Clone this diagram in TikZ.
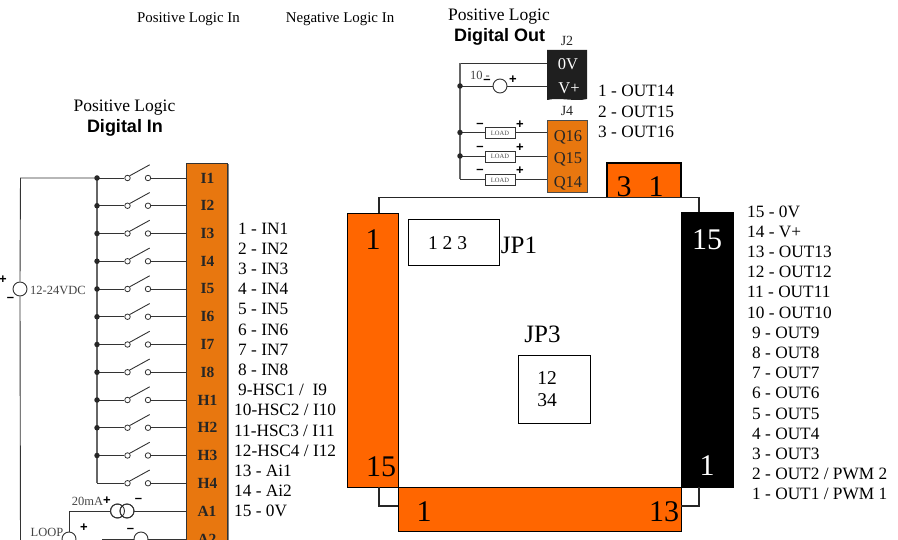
\documentclass[tikz,border=0pt]{standalone}
\usepackage{fontspec}
\setmainfont{Liberation Serif}
\newfontfamily\hv{Liberation Sans}
\definecolor{term}{HTML}{E8770F}
\definecolor{ora}{HTML}{FF6600}
\definecolor{wire}{HTML}{333333}
\definecolor{grayt}{HTML}{444444}
\tikzset{
  wr/.style={draw=wire,line width=0.9pt},
  bus/.style={draw=wire!75,line width=1.3pt},
  blk/.style={draw=black,line width=1.4pt},
  lst/.style={inner sep=0pt,anchor=west,font=\fontsize{17.3}{17}\selectfont,text=black},
  ttl/.style={inner sep=0pt,font=\fontsize{17.5}{17}\selectfont},
  small/.style={inner sep=0pt,font=\fontsize{14.9}{15}\selectfont},
  hd/.style={inner sep=0pt,font=\hv\bfseries\fontsize{18}{18}\selectfont},
  tb/.style={inner sep=0pt,font=\bfseries\fontsize{15.5}{15}\selectfont,text=black!85},
  tq/.style={inner sep=0pt,font=\fontsize{16.5}{16}\selectfont,text=black!85},
  big/.style={inner sep=0pt,font=\fontsize{30}{30}\selectfont},
  mid/.style={inner sep=0pt,font=\fontsize{25}{25}\selectfont},
  ring/.style={circle,draw=wire,fill=white,line width=0.9pt,minimum size=#1,inner sep=0pt},
  pin/.style={circle,draw=wire,fill=white,line width=0.8pt,minimum size=5.5pt,inner sep=0pt},
  jn/.style={circle,fill=black!85,minimum size=5.5pt,inner sep=0pt},
  pm/.style={inner sep=0pt,font=\hv\bfseries\fontsize{13}{13}\selectfont},
  loadbox/.style={draw=wire,fill=white,line width=0.8pt,minimum width=30pt,minimum height=11pt,inner sep=0pt,font=\fontsize{6.5}{7}\selectfont,text=black!70},
}
\begin{document}
\begin{tikzpicture}[x=1pt,y=-1pt]
\useasboundingbox (0,0) rectangle (898,540);
\clip (0,0) rectangle (898,540);
% titles
\node[small] (t1) at (188.5,19) {Positive Logic In};
\node[small] (t2) at (340,19) {Negative Logic In};
\node[ttl] (t3) at (499,17) {Positive Logic};
\node[hd] (t4) at (499.5,36.5) {Digital Out};
\node[ttl] (t5) at (124.5,108) {Positive Logic};
\node[hd] (t6) at (125,127.5) {Digital In};
% input block
\fill[black!50] (227,164) rectangle (228.8,545);
\node[draw=black!80,fill=term,line width=0.9pt,minimum width=41pt,minimum height=400pt,anchor=north west,inner sep=0pt] (inblk) at (186,163) {};
% input terminals and switches
\coordinate (bustop) at (97,178);
\foreach \n/\lab [count=\i from 0] in {a/I1,b/I2,c/I3,d/I4,e/I5,f/I6,g/I7,h/I8,i/H1,j/H2,k/H3,l/H4}{
  \pgfmathsetmacro{\yy}{178+27.75*\i}
  \node[tb] (lab\n) at (207.5,\yy) {\lab};
  \coordinate (bus\n) at (97,\yy);
  \node[pin] (sa\n) at (127.5,\yy) {};
  \node[pin] (sb\n) at (148,\yy) {};
  \draw[wr] (bus\n) -- (sa\n);
  \draw[wr] (sb\n) -- (inblk.west |- sb\n);
  \draw[wr] (sa\n.north east) -- ++(20,-11);
}
\draw[bus] (busa) -- (busl);
\foreach \n in {a,b,c,d,e,f,g,h,i,j,k}{\node[jn] at (bus\n) {};}
% supply
\node[ring=14pt] (vdc) at (20,289) {};
\coordinate (wb) at (20.5,545);
\draw[wr] (busa) -- (20.5,178) -- (vdc.north);
\draw[wr] (vdc.south) -- (wb);
\node[inner sep=0pt,anchor=west,font=\fontsize{12.5}{13}\selectfont,text=grayt] (vt) at (30,290) {12-24VDC};
\node[pm] (vp) at (3,280) {+};
\node[pm] (vm) at (10.5,299.5) {–};
% A1, A2
\node[tb] (laba) at (207,511) {A1};
\node[tb] (labb) at (207,539) {A2};
\node[ring=14pt] (ca) at (117.5,511) {};
\node[ring=14pt] (cb) at (127,511) {};
\draw[wr] (cb) -- (inblk.west |- cb);
\node[ring=14pt,fill=none] at (117.5,511) {};
\node[ring=14pt,fill=none] at (127,511) {};
\node[ring=14pt] (cl) at (69,539) {};
\draw[wr] (ca.west) -- (69,511) -- (cl.north);
\coordinate (wl) at (102,539);
\node[ring=14pt] (cc) at (141,539) {};
\draw[wr] (wl) -- (cc.west);
\draw[wr] (cc.east) -- (inblk.west |- cc);
\node[inner sep=0pt,font=\fontsize{12.5}{13}\selectfont,text=grayt] (ma) at (87.5,501.5) {20mA};
\node[inner sep=0pt,font=\fontsize{12.5}{13}\selectfont,text=grayt] (lp) at (47,532) {LOOP};
\node[pm] (ap) at (107,501) {+};
\node[pm] (am) at (138.5,500) {–};
\node[pm] (lpp) at (84,527.5) {+};
\node[pm] (lpm) at (130.5,530.5) {–};
% input list
\foreach \x/\yi/\s in {238/0/{1 - IN1},238/1/{2 - IN2},238/2/{3 - IN3},238/3/{4 - IN4},238/4/{5 - IN5},238/5/{6 - IN6},238/6/{7 - IN7},238/7/{8 - IN8},238/8/{9-HSC1 /\ \ I9},234/9/{10-HSC2 / I10},234/10/{11-HSC3 / I11},234/11/{12-HSC4 / I12},234/12/{13 - Ai1},234/13/{14 - Ai2},234/14/{15 - 0V}}{
  \pgfmathsetmacro{\yy}{228.5+20.2*\yi}
  \node[lst] at (\x,\yy) {\s};
}
% output J2
\node[inner sep=0pt,font=\fontsize{14}{14}\selectfont,text=black!85] (j2) at (567,41) {J2};
\path[fill=black!88] (547,50) -- (587,50) -- (587,99) .. controls (575,102) and (560,97) .. (547,100) -- cycle;
\coordinate (j2w) at (547,63);
\coordinate (j2v) at (547,86);
\node[inner sep=0pt,font=\fontsize{16.5}{16}\selectfont,text=white] (zero) at (568,64) {0V};
\node[inner sep=0pt,font=\fontsize{16.5}{16}\selectfont,text=white] (vplus) at (569,88) {V+};
\node[inner sep=0pt,font=\fontsize{14}{14}\selectfont,text=black!85] (j4) at (567,111) {J4};
\node[draw=black!70,fill=term,line width=0.8pt,minimum width=40pt,minimum height=72pt,anchor=north west,inner sep=0pt] (j4blk) at (547,120) {};
\node[tq] (q16) at (568,137.5) {Q16};
\node[tq] (q15) at (568,159) {Q15};
\node[tq] (q14) at (568,183) {Q14};
\coordinate (ba) at (460,63);
\coordinate (bb) at (460,86);
\coordinate (bc) at (460,132.5);
\coordinate (bd) at (460,156);
\coordinate (be) at (460,179);
\draw[wr] (j2w) -- (ba);
\draw[bus] (ba) -- (be);
\draw[wr] (be) -- (j4blk.west |- be);
\draw[wr] (bc) -- (j4blk.west |- bc);
\draw[wr] (bd) -- (j4blk.west |- bd);
\node[ring=14pt] (cu) at (500,86) {};
\draw[wr] (bb) -- (cu.west);
\draw[wr] (cu.east) -- (j2v);
\foreach \c in {bb,bc,bd}{\node[jn] at (\c) {};}
\node[loadbox] (la) at (500,133) {LOAD};
\node[loadbox] (lb) at (500,156.5) {LOAD};
\node[loadbox] (lc) at (500,180) {LOAD};
\node[inner sep=0pt,font=\fontsize{12.5}{13}\selectfont,text=grayt] (ten) at (480,75) {10 -};
\node[pm] (tm) at (487,81) {–};
\node[pm] (tp) at (513,80) {+};
\foreach \y/\nm in {125/a,148/b,171/c}{
  \node[pm] (m\nm) at (480,\y) {–};
  \node[pm] (p\nm) at (520,\y) {+};
}
\node[lst] at (598,91) {1 - OUT14};
\node[lst] at (598,111.5) {2 - OUT15};
\node[lst] at (598,132) {3 - OUT16};
% main package
\path[draw=black!85,line width=1.4pt] (379,213) -- (379,197.5) -- (699,197.5) -- (699,213);
\path[draw=black,fill=ora,line width=1.4pt] (607,197.5) -- (607,163) -- (681,163) -- (681,197.5);
\node[blk,fill=ora,minimum width=51pt,minimum height=274pt,anchor=north west,inner sep=0pt] (pleft) at (347,213) {};
\node[blk,fill=black,minimum width=52pt,minimum height=275pt,anchor=north west,inner sep=0pt] (pright) at (681,212) {};
\node[blk,fill=ora,minimum width=283pt,minimum height=44pt,anchor=north west,inner sep=0pt] (pbot) at (398,487) {};
\draw[draw=black!85,line width=1.1pt] (379,487) -- (379,506) -- (398,506);
\draw[draw=black!85,line width=1.1pt] (699,487) -- (699,506) -- (681,506);
\node[big] at (624,187) {3};
\node[big] at (656,187) {1};
\node[big] at (373,240) {1};
\node[big] at (381,467) {15};
\node[big,text=white] at (707,240) {15};
\node[big,text=white] at (707,466) {1};
\node[big] at (424,512) {1};
\node[big] at (664,512) {13};
\node[blk,line width=1.2pt,minimum width=91pt,minimum height=46pt,anchor=north west,inner sep=0pt] (jp1) at (408,219) {};
\node[inner sep=0pt,font=\fontsize{19.5}{19}\selectfont] (n123) at (447.5,243) {1 2 3};
\node[mid] (jp1l) at (519,245) {JP1};
\node[mid] (jp3l) at (542.5,334) {JP3};
\node[blk,line width=1.2pt,minimum width=72pt,minimum height=68pt,anchor=north west,inner sep=0pt] (jp3) at (518,355) {};
\node[inner sep=0pt,font=\fontsize{19.5}{19}\selectfont] (n12) at (547,378) {12};
\node[inner sep=0pt,font=\fontsize{19.5}{19}\selectfont] (n34) at (547,400) {34};
% output list
\foreach \x/\yi/\s in {747/0/{15 - 0V},747/1/{14 - V+},747/2/{13 - OUT13},747/3/{12 - OUT12},747/4/{11 - OUT11},747/5/{10 - OUT10},752/6/{9 - OUT9},752/7/{8 - OUT8},752/8/{7 - OUT7},752/9/{6 - OUT6},752/10/{5 - OUT5},752/11/{4 - OUT4},752/12/{3 - OUT3},752/13/{2 - OUT2 / PWM 2},752/14/{1 - OUT1 / PWM 1}}{
  \pgfmathsetmacro{\yy}{211.5+20.2*\yi}
  \node[lst] at (\x,\yy) {\s};
}
\end{tikzpicture}
\end{document}
